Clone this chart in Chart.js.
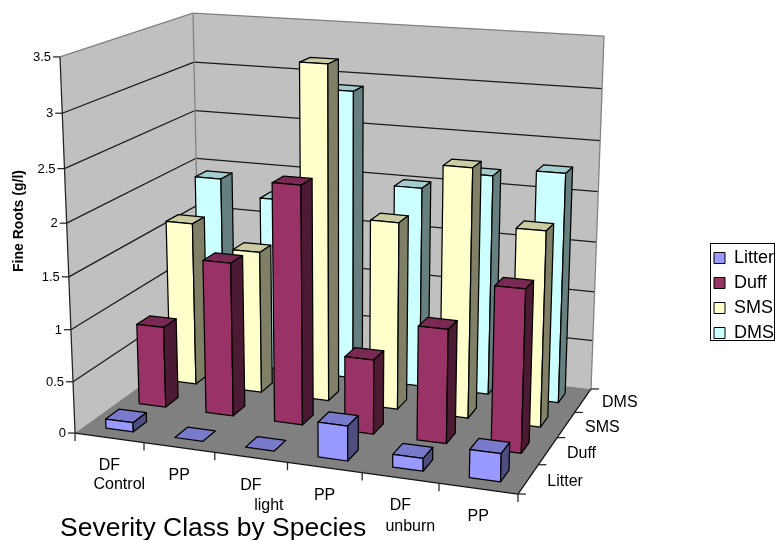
<!DOCTYPE html>
<html><head><meta charset="utf-8">
<style>html,body{margin:0;padding:0;background:#fff}canvas{display:block}</style>
<script src="https://cdn.jsdelivr.net/npm/chart.js@4"></script></head>
<body><canvas id="c" width="775" height="540"></canvas>
<script>
const categories=['DF Control','PP','DF light','PP','DF unburn','PP'];
const seriesNames=['Litter','Duff','SMS','DMS'];
const litter=[0.09,0,0,0.33,0.12,0.26];
const duff=[0.8,1.5,2.3,0.72,1.09,1.54];
const sms=[1.64,1.42,3.29,1.84,2.42,1.89];
const dms=[1.93,1.77,2.91,2.01,2.19,2.27];
const fills=['#9999FF','#993366','#FFFFCC','#CCFFFF'];
const yTicks=[0,0.5,1,1.5,2,2.5,3,3.5];

// corners of the plot box on screen: [x, depth, height, screenX, screenY]
const box=[[0,0,0,75,433],[1,0,0,518,494],[1,1,0,591,389],[0,1,0,200,343],
           [0,0,1,60,57],[1,1,1,604,36],[0,1,1,193,13]];
function solveCamera(pts){
  const n=11,A=Array.from({length:n},()=>new Array(n+1).fill(0));
  const add=(r,b)=>{for(let i=0;i<n;i++){for(let j=0;j<n;j++)A[i][j]+=r[i]*r[j];A[i][n]+=r[i]*b;}};
  for(const [x,z,y,u,v] of pts){
    add([x,z,y,1,0,0,0,0,-u*x,-u*z,-u*y],u);
    add([0,0,0,0,x,z,y,1,-v*x,-v*z,-v*y],v);
  }
  for(let i=0;i<n;i++){
    let p=i;for(let k=i+1;k<n;k++)if(Math.abs(A[k][i])>Math.abs(A[p][i]))p=k;
    [A[i],A[p]]=[A[p],A[i]];
    for(let k=0;k<n;k++){if(k===i)continue;const f=A[k][i]/A[i][i];for(let j=i;j<=n;j++)A[k][j]-=f*A[i][j];}
  }
  return A.map((r,i)=>r[n]/r[i]);
}
const cam=solveCamera(box);
function project(x,z,y){
  const w=cam[8]*x+cam[9]*z+cam[10]*y+1;
  return [(cam[0]*x+cam[1]*z+cam[2]*y+cam[3])/w,(cam[4]*x+cam[5]*z+cam[6]*y+cam[7])/w];
}
function poly(ctx,pts,fill,stroke){
  ctx.beginPath();pts.forEach((p,i)=>i?ctx.lineTo(p[0],p[1]):ctx.moveTo(p[0],p[1]));ctx.closePath();
  if(fill){ctx.fillStyle=fill;ctx.fill();}
  if(stroke){ctx.strokeStyle=stroke;ctx.stroke();}
}
function seg(ctx,a,b,color){ctx.strokeStyle=color;ctx.beginPath();ctx.moveTo(a[0],a[1]);ctx.lineTo(b[0],b[1]);ctx.stroke();}
function shade(hex,f){
  const n=parseInt(hex.slice(1),16);
  return 'rgb('+[(n>>16)&255,(n>>8)&255,n&255].map(c=>Math.round(c*f)).join(',')+')';
}
const frac=(scale,v)=>scale.getDecimalForPixel(scale.getPixelForValue(v));

class Bar3DController extends Chart.BarController{
  draw(){
    const meta=this.getMeta(),chart=this.chart,ctx=chart.ctx;
    const xs=meta.xScale,ys=meta.yScale,zs=chart.scales.z;
    const halfX=0.2/categories.length,halfZ=0.2/seriesNames.length;
    const zc=frac(zs,this.index),fill=this.getDataset().backgroundColor;
    ctx.save();ctx.lineWidth=1.25;ctx.lineJoin='round';
    this.getDataset().data.forEach((v,i)=>{
      const xc=frac(xs,i),h=frac(ys,v);
      const x0=xc-halfX,x1=xc+halfX,z0=zc-halfZ,z1=zc+halfZ;
      const k='#000';
      poly(ctx,[project(x0,z0,h),project(x1,z0,h),project(x1,z1,h),project(x0,z1,h)],shade(fill,0.8),k);
      if(h>0){
        poly(ctx,[project(x0,z0,0),project(x1,z0,0),project(x1,z0,h),project(x0,z0,h)],fill,k);
        poly(ctx,[project(x1,z0,0),project(x1,z1,0),project(x1,z1,h),project(x1,z0,h)],shade(fill,0.5),k);
      }
    });
    ctx.restore();
  }
}
Bar3DController.id='bar3d';
Bar3DController.defaults=Chart.BarController.defaults;
Bar3DController.overrides=Chart.BarController.overrides;
Chart.register(Bar3DController);

const secondLineShift={Control:[10,19],light:[18,20],unburn:[10,21]};
const roomPlugin={
  id:'room',
  afterLayout(chart){
    const l=chart.legend;l.left=707;l.right=775;l.top=242;l.bottom=540;
  },
  beforeDatasetsDraw(chart){
    const ctx=chart.ctx,ys=chart.scales.y;
    ctx.save();ctx.lineWidth=1.25;
    poly(ctx,[project(0,0,0),project(0,1,0),project(0,1,1),project(0,0,1)],'#C0C0C0');
    poly(ctx,[project(0,1,0),project(1,1,0),project(1,1,1),project(0,1,1)],'#C0C0C0');
    poly(ctx,[project(0,0,0),project(1,0,0),project(1,1,0),project(0,1,0)],'#808080');
    ys.ticks.forEach(t=>{
      const h=frac(ys,t.value);
      if(h>0&&h<1){
        seg(ctx,project(0,0,h),project(0,1,h),'#1a1a1a');
        seg(ctx,project(0,1,h),project(1,1,h),'#1a1a1a');
      }
    });
    seg(ctx,project(0,0,1),project(0,1,1),'#808080');
    seg(ctx,project(0,1,1),project(1,1,1),'#808080');
    seg(ctx,project(0,1,0),project(0,1,1),'#808080');
    seg(ctx,project(1,1,0),project(1,1,1),'#808080');
    seg(ctx,project(0,0,0),project(0,0,1),'#222');
    seg(ctx,project(0,0,0),project(1,0,0),'#111');
    seg(ctx,project(1,0,0),project(1,1,0),'#111');
    ctx.restore();
  },
  afterDraw(chart){
    const ctx=chart.ctx,{x:xs,y:ys,z:zs}=chart.scales;
    ctx.save();ctx.lineWidth=1.25;ctx.fillStyle='#000';
    ctx.font='13px "Liberation Sans"';ctx.textAlign='right';ctx.textBaseline='middle';
    ys.ticks.forEach(t=>{
      const p=project(0,0,frac(ys,t.value));
      seg(ctx,[p[0]-7,p[1]],p,'#222');
      ctx.fillText(t.label,p[0]-9,p[1]+0.5);
    });
    categories.forEach((c,i)=>{
      const a=i/categories.length,p=project(a,0,0);
      seg(ctx,p,[p[0],p[1]+8],'#222');
    });
    const e=project(1,0,0);seg(ctx,e,[e[0],e[1]+8],'#222');
    ctx.textAlign='center';ctx.font='16px "Liberation Sans"';
    categories.forEach((c,i)=>{
      const p=project(frac(xs,i),0,0),parts=c.split(' ');
      ctx.fillText(parts[0],p[0],p[1]+28);
      if(parts[1]){
        const s=secondLineShift[parts[1]];
        ctx.fillText(parts[1],p[0]+s[0],p[1]+28+s[1]);
      }
    });
    ctx.textAlign='left';
    seriesNames.forEach((n,i)=>{
      const p=project(1,frac(zs,i),0);
      ctx.fillText(n,p[0]+19,p[1]+2.5);
      const t=project(1,i/seriesNames.length,0);
      seg(ctx,t,[t[0]+8,t[1]],'#222');
    });
    const b=project(1,1,0);seg(ctx,b,[b[0]+8,b[1]],'#222');
    ctx.lineWidth=1;ctx.strokeStyle='#000';ctx.strokeRect(710.5,243.5,64,97);
    ctx.restore();
  }
};

new Chart(document.getElementById('c'),{
  type:'bar3d',
  plugins:[roomPlugin],
  data:{labels:categories,datasets:[
    {label:seriesNames[0],data:litter,backgroundColor:fills[0],borderColor:'#000',borderWidth:1,clip:false},
    {label:seriesNames[1],data:duff,backgroundColor:fills[1],borderColor:'#000',borderWidth:1,clip:false},
    {label:seriesNames[2],data:sms,backgroundColor:fills[2],borderColor:'#000',borderWidth:1,clip:false},
    {label:seriesNames[3],data:dms,backgroundColor:fills[3],borderColor:'#000',borderWidth:1,clip:false}
  ]},
  options:{
    responsive:false,animation:false,events:[],
    layout:{padding:0},
    plugins:{
      tooltip:{enabled:false},
      legend:{display:true,position:'right',align:'start',
        labels:{boxWidth:11,boxHeight:11,padding:7,color:'#000',font:{family:'"Liberation Sans"',size:18}}}
    },
    scales:{
      x:{type:'category',offset:true,grid:{display:false},border:{display:false},ticks:{display:false},
        afterFit(s){s.height=98;},
        title:{display:true,text:'Severity Class by Species',align:'start',color:'#000',padding:0,
          font:{family:'"Liberation Sans"',size:26.5,lineHeight:0.85}}},
      y:{type:'linear',min:0,max:3.5,grid:{display:false},border:{display:false},
        ticks:{display:false,stepSize:0.5,callback:v=>String(v)},
        afterFit(s){s.width=60;},
        title:{display:true,text:'Fine Roots (g/l)',color:'#000',padding:12,
          font:{family:'"Liberation Sans"',size:14,weight:'bold',lineHeight:1}}},
      z:{type:'category',axis:'x',position:'bottom',labels:seriesNames,offset:true,display:false}
    }
  }
});
</script></body></html>
